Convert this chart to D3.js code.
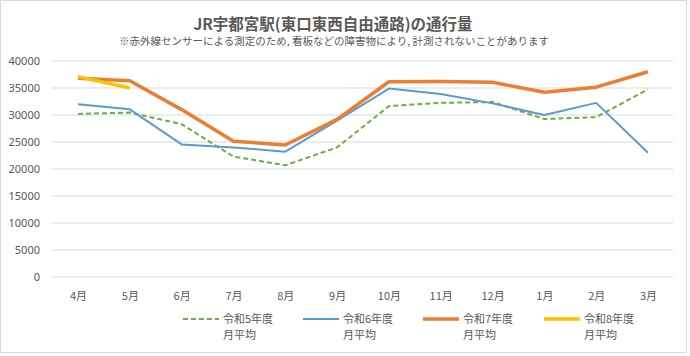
<!DOCTYPE html>
<html><head><meta charset="utf-8">
<script src="https://cdn.jsdelivr.net/npm/d3@7"></script>
<style>body{margin:0;background:#fff;font-family:"Noto Sans CJK JP","Noto Sans",sans-serif;}</style>
</head><body>
<svg id="c" width="690" height="356"></svg>
<script>
const months = ["4月","5月","6月","7月","8月","9月","10月","11月","12月","1月","2月","3月"];
const r5 = [30200,30450,28300,22300,20700,24000,31650,32250,32400,29250,29600,34750];
const r6 = [32000,31050,24550,24000,23200,28950,34900,33900,32150,30000,32250,23000];
const r7 = [36800,36350,31000,25150,24450,29200,36150,36200,36050,34200,35150,38000];
const r8 = [37100,35000];
const yTicks = [0,5000,10000,15000,20000,25000,30000,35000,40000];
const seriesNames = ["令和5年度","令和6年度","令和7年度","令和8年度"];

const svg = d3.select("#c");
svg.append("rect").attr("x",0.5).attr("y",0.5).attr("width",686).attr("height",352)
  .attr("fill","#fff").attr("stroke","#d9d9d9");

const x = d3.scalePoint().domain(months).range([78,648]);
const y = d3.scaleLinear().domain([0,40000]).range([277,61]);

svg.append("g").selectAll("line").data(yTicks).join("line")
  .attr("x1",52).attr("x2",673).attr("y1",d=>y(d)).attr("y2",d=>y(d))
  .attr("stroke","#d9d9d9").attr("stroke-width",1);

const ya = svg.append("g").attr("transform","translate(52,0)")
  .call(d3.axisLeft(y).tickValues(yTicks).tickSize(0).tickPadding(12).tickFormat(d=>d));
ya.select(".domain").remove();
ya.selectAll("text").attr("fill","#595959").style("font-size","11px").style("font-family","Noto Sans, sans-serif");

const xa = svg.append("g").attr("transform","translate(0,277)")
  .call(d3.axisBottom(x).tickSize(0).tickPadding(15));
xa.select(".domain").remove();
xa.selectAll("text").attr("fill","#595959").style("font-size","11px").style("font-family","Noto Sans CJK JP, sans-serif");

const line = d3.line().x((d,i)=>x(months[i])).y(d=>y(d));
const styles = [
  {data:r5,color:"#70AD47",w:2,dash:"5,3"},
  {data:r6,color:"#5B9BD5",w:2,dash:null},
  {data:r7,color:"#ED7D31",w:3.5,dash:null},
  {data:r8,color:"#FFC000",w:3.5,dash:null}
];
styles.forEach(s=>{
  svg.append("path").datum(s.data).attr("d",line).attr("fill","none")
    .attr("stroke",s.color).attr("stroke-width",s.w).attr("stroke-linejoin","round")
    .attr("stroke-dasharray",s.dash);
});

svg.append("text").attr("x",333).attr("y",30).attr("text-anchor","middle")
  .attr("fill","#595959").style("font-size","15.5px").style("font-weight","bold")
  .text("JR宇都宮駅(東口東西自由通路)の通行量");
svg.append("text").attr("x",334).attr("y",45).attr("text-anchor","middle")
  .attr("fill","#595959").style("font-size","10.5px")
  .text("※赤外線センサーによる測定のため, 看板などの障害物により, 計測されないことがあります");

const lx = [183,303,423,544];
styles.forEach((s,i)=>{
  const g = svg.append("g");
  g.append("line").attr("x1",lx[i]).attr("x2",lx[i]+36).attr("y1",319).attr("y2",319)
    .attr("stroke",s.color).attr("stroke-width",s.w).attr("stroke-dasharray",s.dash);
  g.append("text").attr("x",lx[i]+40).attr("y",323).attr("fill","#595959").style("font-size","11px").text(seriesNames[i]);
  g.append("text").attr("x",lx[i]+40).attr("y",339).attr("fill","#595959").style("font-size","11px").text("月平均");
});
</script>
</body></html>
